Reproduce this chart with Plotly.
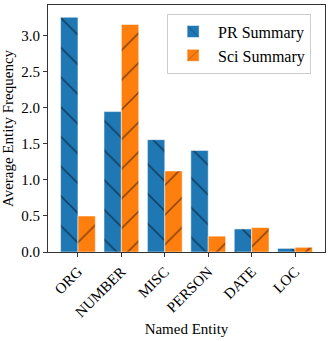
import plotly.graph_objects as go

entities = ["ORG", "NUMBER", "MISC", "PERSON", "DATE", "LOC"]
pr_summary = [3.26, 1.95, 1.56, 1.41, 0.32, 0.05]
sci_summary = [0.50, 3.16, 1.125, 0.22, 0.34, 0.065]

font = "Liberation Serif"

fig = go.Figure()
fig.add_trace(go.Bar(
    x=entities, y=pr_summary, name="PR Summary",
    marker=dict(color="#1f77b4", line=dict(color="rgba(255,255,255,0.5)", width=1),
                pattern=dict(shape="\\", fgcolor="black", size=21, solidity=0.07)),
))
fig.add_trace(go.Bar(
    x=entities, y=sci_summary, name="Sci Summary",
    marker=dict(color="#ff7f0e", line=dict(color="rgba(255,255,255,0.5)", width=1),
                pattern=dict(shape="/", fgcolor="black", size=21, solidity=0.07)),
))

fig.update_layout(
    width=332, height=341,
    margin=dict(l=48, r=7, t=5, b=89),
    paper_bgcolor="white", plot_bgcolor="white",
    barmode="group", bargap=0.2, bargroupgap=0,
    font=dict(family=font, size=15, color="black"),
    legend=dict(x=0.43, y=0.965, xanchor="left", yanchor="top",
                bgcolor="rgba(255,255,255,0.8)", bordercolor="#cccccc", borderwidth=1,
                font=dict(size=16), itemwidth=40, tracegroupgap=2),
)
fig.update_xaxes(
    range=[-0.69, 5.69], tickangle=-45, automargin=False,
    showline=True, linecolor="#333", linewidth=1, mirror=True,
    ticks="outside", ticklen=4, tickcolor="#333",
    title=dict(text="Named Entity", standoff=4, font=dict(size=15)),
    tickfont=dict(size=15),
)
fig.update_yaxes(
    range=[0, 3.43], dtick=0.5, tickformat=".1f", automargin=False,
    showline=True, linecolor="#333", linewidth=1, mirror=True,
    ticks="outside", ticklen=4, tickcolor="#333", showgrid=False, zeroline=False,
    title=dict(text="Average Entity Frequency", standoff=8, font=dict(size=15)),
    tickfont=dict(size=15),
)

# page has a default 8px body margin; drop it so the figure fills the window
fig.write_html("out.html", config={"displayModeBar": False},
               post_script="document.body.style.margin='0';")
